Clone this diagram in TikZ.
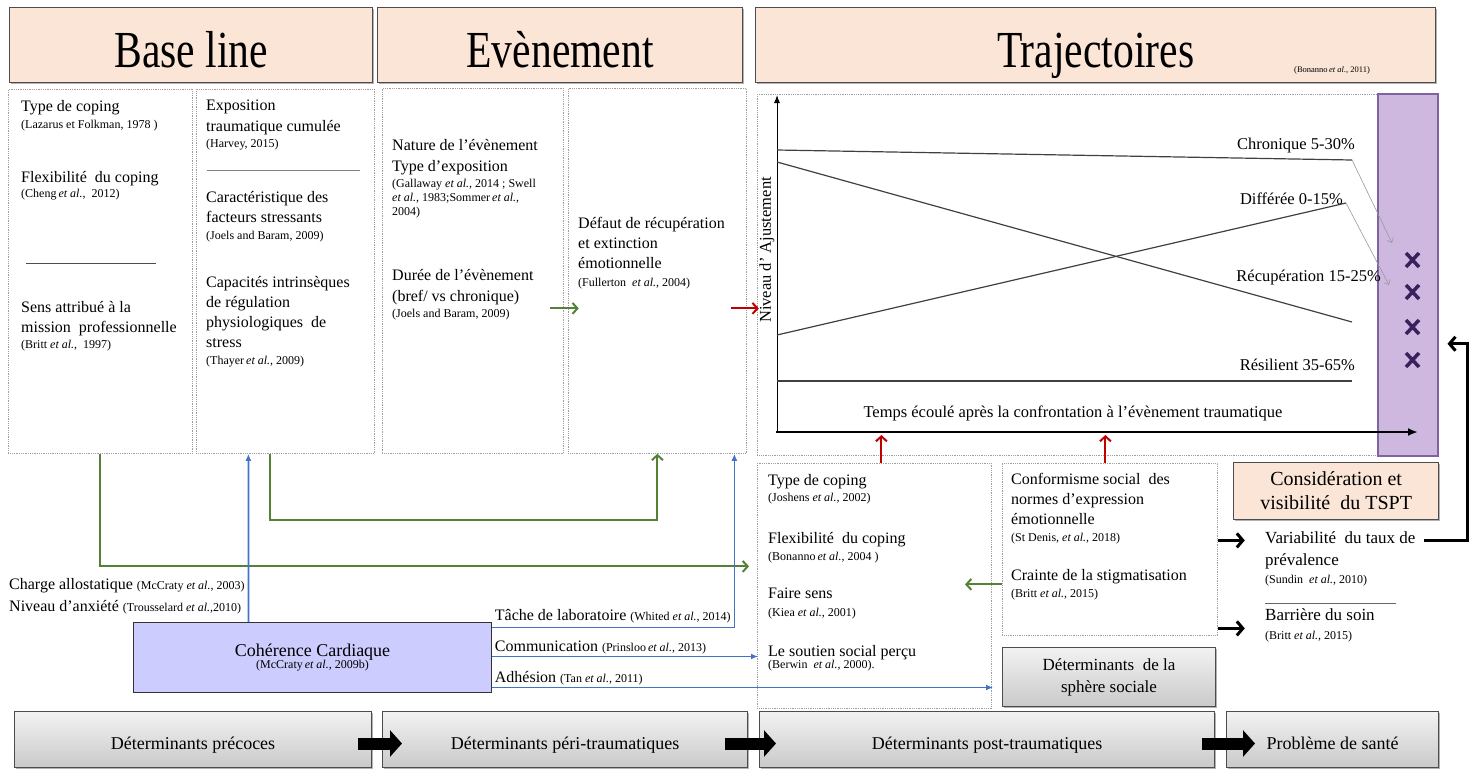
\documentclass[tikz,border=0pt]{standalone}
\usepackage{fontspec}
\setmainfont{Liberation Serif}
\usepackage{graphicx}
\usepackage{tikz}
\usetikzlibrary{arrows.meta,shadows}
\definecolor{peach}{RGB}{251,229,214}
\definecolor{lavblue}{RGB}{204,204,255}
\definecolor{lilac}{RGB}{206,184,224}
\definecolor{lilacdark}{RGB}{128,100,162}
\definecolor{xpurple}{RGB}{58,32,92}
\definecolor{arrgreen}{RGB}{84,130,53}
\definecolor{arrblue}{RGB}{68,114,196}
\definecolor{arrred}{RGB}{192,0,0}
\newcommand{\bodyf}{\fontsize{16}{20}\selectfont}
\newcommand{\srcf}{\fontsize{12}{14}\selectfont}
\newcommand{\src}[1]{{\srcf #1}}
\newcommand{\etl}{\textit{et al.}}
\newcommand{\titlet}[1]{\scalebox{0.8}[1]{\fontsize{52}{52}\selectfont #1}}
\tikzset{>=latex,
  dotbox/.style={draw=gray!75, densely dotted, line width=0.8pt, anchor=north west, inner sep=0pt},
  peachbox/.style={draw=black!70, line width=1.2pt, fill=peach, anchor=north west,
    drop shadow={shadow xshift=1.5pt, shadow yshift=-1.5pt, opacity=0.6}},
  headbox/.style={peachbox, text height=45pt, text depth=0pt},
  graybox/.style={draw=black!70, line width=1pt, top color=gray!10, bottom color=gray!42,
    anchor=north west, align=center, drop shadow={shadow xshift=1.5pt, shadow yshift=-1.5pt, opacity=0.6}},
  footbox/.style={graybox, minimum height=56pt, text height=20pt, text depth=0pt, font=\fontsize{18}{22}\selectfont},
  txt/.style={anchor=north west, align=left, inner sep=0pt, font=\bodyf},
  lbl/.style={inner sep=0pt, font=\fontsize{16.5}{20}\selectfont},
  garrow/.style={draw=arrgreen, line width=2pt, -{Straight Barb[length=5pt,width=11pt]}},
  rarrow/.style={draw=arrred, line width=2pt, -{Straight Barb[length=5pt,width=11pt]}},
  barrow/.style={draw=arrblue, line width=1.8pt, -{Latex[length=7pt,width=6pt]}},
  karrow/.style={draw=black, line width=3pt, -{Straight Barb[length=6pt,width=14pt]}},
  blkarrow/.style={draw=black, line width=12pt, -{Triangle[length=12pt,width=26pt]}},
  trajline/.style={draw=black!75, line width=1.2pt}
}
\begin{document}
\begin{tikzpicture}[x=1pt,y=-1pt]
\useasboundingbox (0,0) rectangle (1474,769);

\node[headbox, minimum width=363pt, minimum height=75pt] (hbase) at (9,7) {\titlet{Base line}};
\node[headbox, minimum width=365pt, minimum height=75pt] (hevent) at (377,7) {\titlet{Evènement}};
\node[headbox, minimum width=680pt, minimum height=75pt] (htraj) at (755,7) {\titlet{Trajectoires}};
\node[anchor=west, inner sep=0pt, font=\fontsize{8.5}{10}\selectfont] (bonref) at (1294,70) {(Bonanno\,\etl, 2011)};

\node[dotbox, minimum width=184pt, minimum height=364pt] (bl1) at (8,89) {};
\node[dotbox, minimum width=178pt, minimum height=364pt] (bl2) at (196,89) {};
\node[dotbox, minimum width=181pt, minimum height=365pt] (ev1) at (382,88) {};
\node[dotbox, minimum width=178pt, minimum height=365pt] (ev2) at (568,88) {};
\node[dotbox, minimum width=681pt, minimum height=361pt] (trbox) at (757,94) {};
\node[draw=lilacdark, line width=1.5pt, fill=lilac, anchor=north west, minimum width=60pt, minimum height=362pt] (strip) at (1377,93) {};

\node[txt] (bl1a) at (21,100) {Type de coping\\[-2.5pt]\src{(Lazarus et Folkman, 1978 )}};
\node[txt] (bl1b) at (21,171) {Flexibilité\ \ du coping\\[-4.5pt]\src{(Cheng\,\etl,\ \ 2012)}};
\draw[black!70, line width=0.7pt] (26,263) -- (156,263);
\node[txt] (bl1c) at (21,301) {Sens attribué à la\\mission\ \ professionnelle\\[-3.5pt]\src{(Britt \etl,\ \ 1997)}};

\node[txt] (bl2a) at (206,100) {Exposition\\[0.5pt]traumatique cumulée\\[-3.5pt]\src{(Harvey, 2015)}};
\draw[gray, line width=0.7pt] (207,170) -- (360,170);
\node[txt] (bl2b) at (206,191) {Caractéristique des\\facteurs stressants\\[-2.5pt]\src{(Joels and Baram, 2009)}};
\node[txt] (bl2c) at (206,276) {Capacités intrinsèques\\de régulation\\physiologiques\ \ de\\stress\\[-2.5pt]\src{(Thayer\,\etl, 2009)}};

\node[txt] (ev1a) at (392,139) {Nature de l’évènement\\[1pt]Type d’exposition\\[-3.5pt]\src{(Gallaway \etl, 2014 ; Swell}\\[-6.5pt]\src{\etl, 1983;Sommer\,\etl,}\\[-5.5pt]\src{2004)}};
\node[txt] (ev1b) at (392,269) {Durée de l’évènement\\[1pt](bref/ vs chronique)\\[-3.5pt]\src{(Joels and Baram, 2009)}};
\node[txt] (ev2a) at (578,217) {Défaut de récupération\\et extinction\\émotionnelle\\[-1.5pt]\src{(Fullerton\ \ \etl, 2004)}};

\draw[-{Latex[length=8pt,width=6pt]}, line width=1pt] (777,432) -- (777,95);
\draw[-{Latex[length=10pt,width=8pt]}, line width=2.5pt] (776,432) -- (1418,432);
\coordinate (chroend) at (1352,160);
\coordinate (diffend) at (1346,203);
\draw[trajline] (777,150) -- (chroend);
\draw[trajline] (777,162) -- (1352,322);
\draw[trajline] (777,335) -- (diffend);
\draw[trajline] (777,381) -- (1352,381);
\node[lbl, anchor=east] (chro) at (1355,146) {Chronique 5-30\%};
\node[lbl, anchor=east] (diff) at (1343,199) {Différée 0-15\%};
\node[lbl, anchor=east] (recu) at (1381,278) {Récupération 15-25\%};
\node[lbl, anchor=east] (resi) at (1355,365) {Résilient 35-65\%};
\node[lbl, rotate=90] (yaxl) at (767,250) {Niveau d' Ajustement};
\node[lbl] (xaxl) at (1073,413) {Temps écoulé après la confrontation à l’évènement traumatique};
\draw[gray!80, line width=0.6pt, -{Straight Barb[length=4pt,width=7pt]}] (chroend) -- (1392,243);
\draw[gray!80, line width=0.6pt, -{Straight Barb[length=4pt,width=7pt]}] (diffend) -- (1389,285);
\foreach \yy in {260,292,327,360}
  \draw[xpurple, line width=3.5pt] (1406,\yy-7) -- (1419,\yy+7) (1406,\yy+7) -- (1419,\yy-7);

\node[dotbox, minimum width=234pt, minimum height=245pt] (copbox) at (757,463) {};
\node[dotbox, minimum width=215pt, minimum height=172pt] (socbox) at (1002,463) {};
\node[txt] (cop1) at (768,474) {Type de coping\\[-3.5pt]\src{(Joshens \etl, 2002)}};
\node[txt] (cop2) at (768,532) {Flexibilité\ \ du coping\\[-2.5pt]\src{(Bonanno\,\etl, 2004 )}};
\node[txt] (cop3) at (768,588) {Faire sens\\[-2.5pt]\src{(Kiea \etl, 2001)}};
\node[txt] (cop4) at (768,645) {Le soutien social perçu\\[-8pt]\src{(Berwin\ \ \etl, 2000).}};
\node[txt] (soc1) at (1011,473) {Conformisme social\ \ des\\normes d’expression\\émotionnelle\\[-2.5pt]\src{(St Denis, \etl, 2018)}};
\node[txt] (soc2) at (1011,569) {Crainte de la stigmatisation\\[-3pt]\src{(Britt \etl, 2015)}};
\node[graybox, minimum width=213pt, minimum height=59pt, font=\fontsize{17}{22}\selectfont] (sphbox) at (1002,647) {Déterminants\ \ de la\\sphère sociale};
\node[peachbox, minimum width=205pt, minimum height=57pt, align=center, font=\fontsize{20}{24}\selectfont] (tspt) at (1233,462) {Considération et\\visibilité\ \ du TSPT};
\node[txt, font=\fontsize{17}{20}\selectfont] (variab) at (1265,531) {Variabilité\ \ du taux de\\[2pt]prévalence\\[-2pt]\src{(Sundin\ \ \etl, 2010)}};
\draw[black!60, line width=0.6pt] (1265,603) -- (1396,603);
\node[txt, font=\fontsize{17}{20}\selectfont] (barr) at (1265,608) {Barrière du soin\\[-1pt]\src{(Britt \etl, 2015)}};
\coordinate (vtail) at (1424,540);

\node[draw=black!80, line width=1pt, fill=lavblue, anchor=north west, align=center, minimum width=358pt, minimum height=70pt, font=\fontsize{18}{22}\selectfont] (coh) at (133,622) {Cohérence Cardiaque\\[-10.5pt]\src{(McCraty\,\etl, 2009b)}};
\node[anchor=west, inner sep=0pt, font=\bodyf] (charge) at (9,586) {Charge allostatique \src{(McCraty \etl, 2003)}};
\node[anchor=west, inner sep=0pt, font=\bodyf] (anxiete) at (9,607) {Niveau d’anxiété \src{(Trousselard \etl,2010)}};

\draw[garrow] (bl1.south) |- ([xshift=-8pt,yshift=19.5pt]copbox.west);
\draw[garrow] ([xshift=-15pt]bl2.south) -- ++(0,66) -| (ev2.south);
\draw[garrow] ([xshift=-14pt,yshift=-37.5pt]ev1.east) -- ++(29,0);
\draw[rarrow] ([xshift=-16pt,yshift=-37.5pt]ev2.east) -- ++(28,0);
\draw[rarrow] ([xshift=7pt]copbox.north) -- ++(0,-28);
\draw[rarrow] ([xshift=-4.5pt]socbox.north) -- ++(0,-28);
\draw[garrow] ([yshift=-35pt]socbox.west) -- ++(-37,0);
\draw[barrow] ([xshift=-64pt]coh.north) -- ([xshift=-37pt]bl2.south);
\draw[barrow] ([yshift=30pt]coh.east) -| node[pos=0, anchor=south west, inner sep=2pt, yshift=2pt, font=\bodyf] (tache) {Tâche de laboratoire \src{(Whited \etl, 2014)}} ([xshift=77pt]ev2.south);
\draw[barrow] ([yshift=1pt]coh.east) -- node[pos=0, anchor=south west, inner sep=2pt, font=\bodyf] (comm) {Communication \src{(Prinsloo\,\etl, 2013)}} ++(266,0);
\draw[barrow] ([yshift=-30pt]coh.east) -- node[pos=0, anchor=south west, inner sep=2pt, font=\bodyf] (adhe) {Adhésion \src{(Tan \etl, 2011)}} ++(501,0);
\draw[karrow] ([yshift=9pt]socbox.east) -- ++(27,0);
\draw[karrow] ([yshift=-79pt]socbox.east) -- ++(27,0);
\draw[karrow] (vtail) -| ([xshift=29pt,yshift=-69pt]strip.east) -- ([xshift=9pt,yshift=-69pt]strip.east);

\node[footbox, minimum width=357pt] (bd1) at (14,711) {Déterminants précoces};
\node[footbox, minimum width=365pt] (bd2) at (382,711) {Déterminants péri-traumatiques};
\node[footbox, minimum width=455pt] (bd3) at (759,711) {Déterminants post-traumatiques};
\node[footbox, minimum width=212pt] (bd4) at (1226,711) {Problème de santé};
\draw[blkarrow] ([xshift=-14pt,yshift=-4pt]bd1.east) -- ([xshift=20pt,yshift=-4pt]bd2.west);
\draw[blkarrow] ([xshift=-23pt,yshift=-4pt]bd2.east) -- ([xshift=17pt,yshift=-4pt]bd3.west);
\draw[blkarrow] ([xshift=-13pt,yshift=-4pt]bd3.east) -- ([xshift=29pt,yshift=-4pt]bd4.west);
\end{tikzpicture}
\end{document}
